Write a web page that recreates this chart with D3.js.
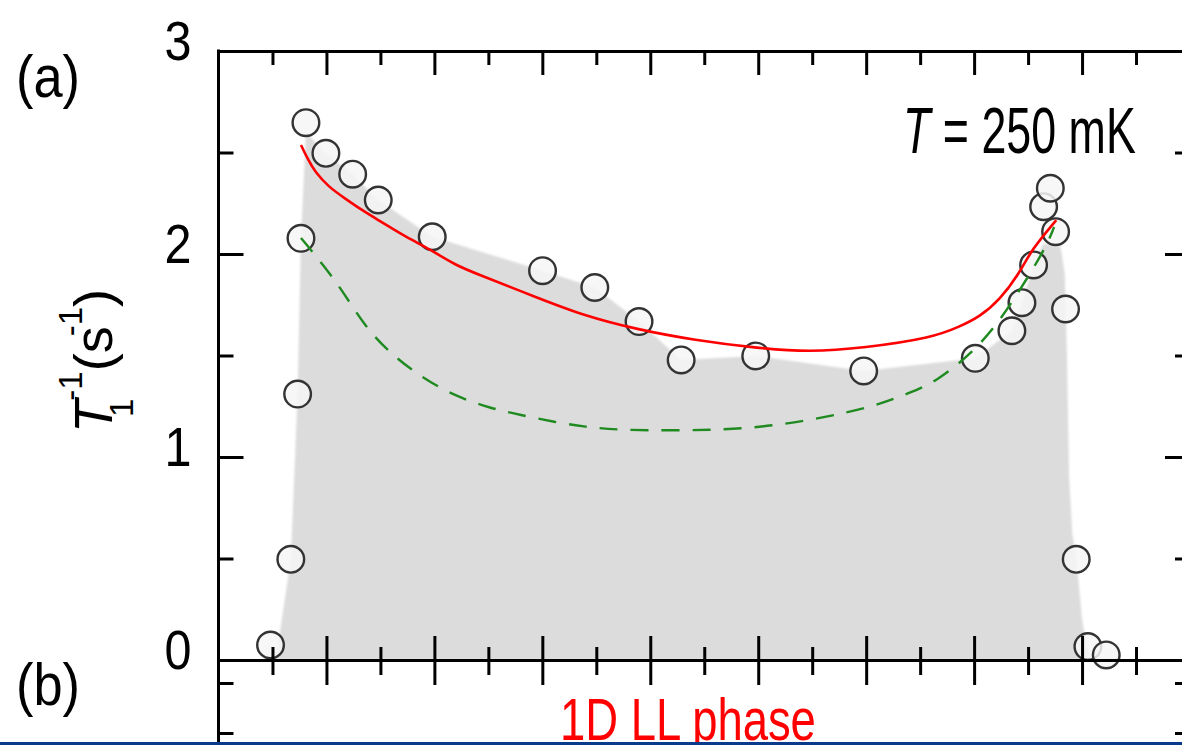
<!DOCTYPE html>
<html>
<head>
<meta charset="utf-8">
<script src="https://cdn.jsdelivr.net/npm/d3@7"></script>
<style>
  html, body { margin: 0; padding: 0; background: #ffffff; overflow: hidden; }
  svg { display: block; }
  text { font-family: "Liberation Sans", Arial, Helvetica, sans-serif; }
</style>
</head>
<body>
<svg id="chart" width="1182" height="745"></svg>
<script>
// ---------- data ----------
// measured points: field position (arbitrary field units) and relaxation rate T1^-1 (s^-1)
const pointX = [6.482, 6.670, 6.733, 6.764, 6.810, 6.995, 7.243, 7.480, 7.980, 9.002,
                9.486, 9.896, 10.286, 10.977, 11.977, 13.011, 13.350, 13.443, 13.551, 13.644,
                13.706, 13.755, 13.847, 13.946, 14.054, 14.224];
const pointY = [0.074, 0.496, 1.310, 2.077, 2.647, 2.496, 2.393, 2.266, 2.085, 1.918,
                1.835, 1.667, 1.478, 1.498, 1.424, 1.486, 1.622, 1.760, 1.946, 2.233,
                2.324, 2.110, 1.729, 0.496, 0.066, 0.025];

// red solid fit
const redX = [6.764, 6.831, 6.894, 7.017, 7.171, 7.326, 7.480, 7.634, 7.789, 7.943,
              8.190, 8.403, 8.938, 9.363, 9.894, 10.41, 10.977, 11.477, 11.977, 12.606,
              12.866, 13.051, 13.236, 13.421, 13.530, 13.761];
const redY = [2.537, 2.463, 2.405, 2.332, 2.274, 2.217, 2.167, 2.118, 2.069, 2.028,
              1.946, 1.900, 1.788, 1.700, 1.626, 1.576, 1.537, 1.517, 1.537, 1.586,
              1.642, 1.691, 1.773, 1.906, 2.020, 2.167];

// green dashed fit
const greenX = [6.764, 6.986, 7.162, 7.361, 7.588, 7.875, 8.190, 8.514, 8.796, 9.116,
                9.398, 9.699, 10.301, 10.903, 11.509, 12.094, 12.394, 12.644, 12.995, 13.245,
                13.483, 13.671, 13.741];
const greenY = [2.079, 1.936, 1.808, 1.640, 1.512, 1.394, 1.300, 1.241, 1.207, 1.172,
                1.148, 1.133, 1.130, 1.138, 1.182, 1.251, 1.315, 1.369, 1.517, 1.675,
                1.872, 2.039, 2.133];

// grey shaded region (upper outline)
const shadeX = [6.53, 6.670, 6.733, 6.764, 6.810, 6.995, 7.243, 7.480, 7.980, 9.002,
                9.486, 9.896, 10.286, 10.977, 11.977, 13.011, 13.350, 13.443, 13.551, 13.64,
                13.80, 13.84, 13.86, 13.88, 13.91, 13.95, 14.00, 14.05, 14.07];
const shadeY = [0.0, 0.496, 1.310, 2.077, 2.600, 2.496, 2.393, 2.266, 2.085, 1.918,
                1.835, 1.667, 1.478, 1.498, 1.424, 1.486, 1.622, 1.760, 1.946, 2.05,
                2.04, 1.90, 1.50, 0.90, 0.62, 0.49, 0.20, 0.05, 0.0];

// axis ticks
const xMajorTicks = [7, 8, 9, 10, 11, 12, 13, 14];
const xMinorTicks = [6.5, 7.5, 8.5, 9.5, 10.5, 11.5, 12.5, 13.5, 14.5];
const yMajorTicks = [0, 1, 2, 3];
const yMinorTicks = [0.5, 1.5, 2.5];
const yTickLabels = ["0", "1", "2", "3"];
const bTicks = [1.5, 1.0];   // panel (b) axis ticks (labels off-screen)

// texts
const tempLabel = { italic: "T", rest: " = 250 mK" };
const phaseLabel = "1D LL phase";

// ---------- layout ----------
const W = 1182, H = 745;
const svg = d3.select("#chart");

const x = d3.scaleLinear().domain([6, 15]).range([218.5, 1190]);
const y = d3.scaleLinear().domain([0, 3]).range([660, 51]);
const yb = d3.scaleLinear().domain([1.5, 1.0]).range([683, 733]);

const defs = svg.append("defs");
defs.append("filter").attr("id", "soft")
  .attr("x", "-5%").attr("y", "-5%").attr("width", "110%").attr("height", "110%")
  .append("feGaussianBlur").attr("stdDeviation", 1.3);

// grey shade
const shadeData = shadeX.map((d, i) => [d, shadeY[i]]);
svg.append("path")
  .datum(shadeData)
  .attr("d", d3.area().x(d => x(d[0])).y0(y(0)).y1(d => y(d[1])).curve(d3.curveLinear))
  .attr("fill", "#dcdcdc")
  .attr("filter", "url(#soft)");

// data circles
const pts = pointX.map((d, i) => [d, pointY[i]]);
svg.append("g").selectAll("circle").data(pts).join("circle")
  .attr("cx", d => x(d[0])).attr("cy", d => y(d[1])).attr("r", 13.3)
  .attr("fill", "#f6f6f6").attr("fill-opacity", 0.85)
  .attr("stroke", "#333333").attr("stroke-width", 2.4);

// fit lines
const lineGen = d3.line().x(d => x(d[0])).y(d => y(d[1])).curve(d3.curveBasis);
svg.append("path")
  .datum(greenX.map((d, i) => [d, greenY[i]]))
  .attr("d", lineGen).attr("fill", "none")
  .attr("stroke", "#1f8a1f").attr("stroke-width", 2.4)
  .attr("stroke-dasharray", "18,13");
svg.append("path")
  .datum(redX.map((d, i) => [d, redY[i]]))
  .attr("d", lineGen).attr("fill", "none")
  .attr("stroke", "#ff0000").attr("stroke-width", 2.6);

// ---------- axes ----------
function styleAxis(g) {
  g.selectAll("path.domain").attr("stroke", "#000").attr("stroke-width", 3);
  g.selectAll(".tick line").attr("stroke", "#000").attr("stroke-width", 3);
  g.selectAll(".tick text").remove();
}
// top frame
svg.append("g").attr("transform", `translate(0,${y(3)})`)
  .call(d3.axisTop(x).tickValues(xMajorTicks).tickSizeInner(-24).tickSizeOuter(0).tickFormat(""))
  .call(styleAxis);
svg.append("g").attr("transform", `translate(0,${y(3)})`)
  .call(d3.axisTop(x).tickValues(xMinorTicks).tickSizeInner(-14).tickSizeOuter(0).tickFormat(""))
  .call(styleAxis);
// middle axis (bottom of a / top of b): ticks cross the line
svg.append("g").attr("transform", `translate(0,${y(0)})`)
  .call(d3.axisTop(x).tickValues(xMajorTicks).tickSizeInner(24).tickSizeOuter(0).tickFormat(""))
  .call(styleAxis);
svg.append("g").attr("transform", `translate(0,${y(0)})`)
  .call(d3.axisBottom(x).tickValues(xMajorTicks).tickSizeInner(25).tickSizeOuter(0).tickFormat(""))
  .call(styleAxis);
svg.append("g").attr("transform", `translate(0,${y(0)})`)
  .call(d3.axisTop(x).tickValues(xMinorTicks).tickSizeInner(13).tickSizeOuter(0).tickFormat(""))
  .call(styleAxis);
svg.append("g").attr("transform", `translate(0,${y(0)})`)
  .call(d3.axisBottom(x).tickValues(xMinorTicks).tickSizeInner(15).tickSizeOuter(0).tickFormat(""))
  .call(styleAxis);

// left axis line (extends through both panels)
svg.append("line")
  .attr("x1", x(6)).attr("x2", x(6)).attr("y1", y(3) - 1.5).attr("y2", H)
  .attr("stroke", "#000").attr("stroke-width", 3);
// right axis line
svg.append("line")
  .attr("x1", x(15)).attr("x2", x(15)).attr("y1", y(3) - 1.5).attr("y2", H)
  .attr("stroke", "#000").attr("stroke-width", 3);

// left y axis of (a) with labels
const yAxisG = svg.append("g").attr("transform", `translate(${x(6)},0)`)
  .call(d3.axisLeft(y).tickValues(yMajorTicks).tickSizeInner(-25).tickSizeOuter(0)
        .tickPadding(27).tickFormat((d, i) => yTickLabels[i]));
yAxisG.select("path.domain").remove();
yAxisG.selectAll(".tick line").attr("stroke", "#000").attr("stroke-width", 3);
yAxisG.selectAll(".tick text")
  .attr("fill", "#000").attr("font-size", 56).attr("dy", "0.15em")
  .attr("font-family", "Liberation Sans, Arial, sans-serif")
  .attr("textLength", 27).attr("lengthAdjust", "spacingAndGlyphs");
svg.append("g").attr("transform", `translate(${x(6)},0)`)
  .call(d3.axisLeft(y).tickValues(yMinorTicks).tickSizeInner(-15).tickSizeOuter(0).tickFormat(""))
  .call(g => { g.select("path.domain").remove(); g.selectAll(".tick line").attr("stroke", "#000").attr("stroke-width", 3); });
// right y axis of (a)
svg.append("g").attr("transform", `translate(${x(15)},0)`)
  .call(d3.axisRight(y).tickValues(yMajorTicks).tickSizeInner(-25).tickSizeOuter(0).tickFormat(""))
  .call(g => { g.select("path.domain").remove(); g.selectAll(".tick line").attr("stroke", "#000").attr("stroke-width", 3); });
svg.append("g").attr("transform", `translate(${x(15)},0)`)
  .call(d3.axisRight(y).tickValues(yMinorTicks).tickSizeInner(-15).tickSizeOuter(0).tickFormat(""))
  .call(g => { g.select("path.domain").remove(); g.selectAll(".tick line").attr("stroke", "#000").attr("stroke-width", 3); });
// panel (b) y ticks
svg.append("g").attr("transform", `translate(${x(6)},0)`)
  .call(d3.axisLeft(yb).tickValues(bTicks).tickSizeInner(-15).tickSizeOuter(0).tickFormat(""))
  .call(g => { g.select("path.domain").remove(); g.selectAll(".tick line").attr("stroke", "#000").attr("stroke-width", 3); });
svg.append("g").attr("transform", `translate(${x(15)},0)`)
  .call(d3.axisRight(yb).tickValues(bTicks).tickSizeInner(-15).tickSizeOuter(0).tickFormat(""))
  .call(g => { g.select("path.domain").remove(); g.selectAll(".tick line").attr("stroke", "#000").attr("stroke-width", 3); });

// ---------- texts ----------
// y axis title: T_1^-1 (s^-1)
const yt = svg.append("text")
  .attr("transform", "translate(112,433) rotate(-90)")
  .attr("font-size", 54).attr("fill", "#000");
yt.append("tspan").attr("font-style", "italic").text("T");
yt.append("tspan").attr("font-size", 33).attr("dx", -17).attr("dy", 21).text("1");
yt.append("tspan").attr("font-size", 33).attr("dx", -2).attr("dy", -51).text("-1");
yt.append("tspan").attr("dy", 30).text("(s");
yt.append("tspan").attr("font-size", 33).attr("dx", -10).attr("dy", -30).text("-1");
yt.append("tspan").attr("dy", 30).text(")");

// panel labels
svg.append("text").attr("x", 16).attr("y", 97).attr("font-size", 60)
  .attr("textLength", 64).attr("lengthAdjust", "spacingAndGlyphs").text("(a)");
svg.append("text").attr("x", 16).attr("y", 705).attr("font-size", 60)
  .attr("textLength", 64).attr("lengthAdjust", "spacingAndGlyphs").text("(b)");

// temperature label
const tl = svg.append("text").attr("transform", "translate(903,153) scale(0.7,1)")
  .attr("font-size", 64).attr("fill", "#000");
tl.append("tspan").attr("font-style", "italic").text(tempLabel.italic);
tl.append("tspan").text(tempLabel.rest);

// phase label (red), cut by the bottom rule as in the reference
svg.append("text").attr("transform", "translate(560,740) scale(0.77,1)")
  .attr("font-size", 59).attr("fill", "#ff0000").text(phaseLabel);

// bottom blue rule
svg.append("rect").attr("x", 0).attr("y", 742).attr("width", W).attr("height", 3)
  .attr("fill", "#0a3a8c");
</script>
</body>
</html>
